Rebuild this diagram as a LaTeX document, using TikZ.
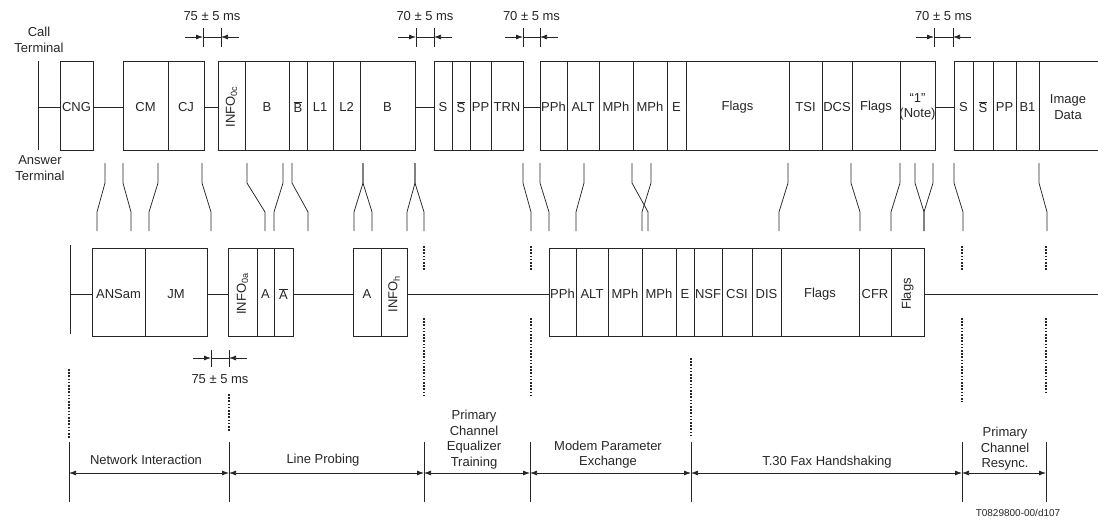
\documentclass[tikz,border=0pt]{standalone}
\usepackage{fontspec}
\setmainfont{Liberation Sans}
\usetikzlibrary{arrows.meta}
\begin{document}
\begin{tikzpicture}[x=1pt,y=-1pt,line width=0.75pt,color=black!85,
	lbl/.style={font=\fontsize{13}{15.5}\selectfont,inner sep=0pt,align=center},
	tip/.style={-{Latex[length=7pt,width=5pt]}},
	both/.style={{Latex[length=7pt,width=5pt]}-{Latex[length=7pt,width=5pt]}},
	dots/.style={line width=1.3pt,dash pattern=on 1.6pt off 1.6pt}]
	\useasboundingbox (0,0) rectangle (1098,522);
	
	\node[lbl] (call) at (39,40) {Call\\Terminal};
	\node[lbl] (answer) at (40,168) {Answer\\Terminal};
	
	% call terminal row
	\draw (38,61)--(38,150);
	\foreach \a/\b in {38/60, 93/123, 204/218, 415/434, 523/540, 935/954}
		\draw (\a,107)--(\b,107);
	\foreach \a/\b/\t [count=\i] in {60/93/CNG, 123/168/CM, 168/204/CJ, 245/289/B,
			289/307/{$\overline{\mbox{B}}$}, 307/333/L1, 333/360/L2, 360/415/B,
			434/452/S, 452/470/{$\overline{\mbox{S}}$}, 470/491/PP, 491/523/TRN,
			540/567/PPh, 567/599/ALT, 599/633/MPh, 633/667/MPh, 667/686/E,
			686/789/Flags, 789/822/TSI, 822/852/DCS, 852/900/Flags,
			900/935/{``1''\\(Note)}, 954/973/S, 973/993/{$\overline{\mbox{S}}$},
			993/1016/PP, 1016/1039/B1}
		\draw (\a,61) rectangle (\b,150) node[lbl] (up\i) at ({(\a+\b)/2},107) {\t};
	\draw (218,61) rectangle (245,150);
	\node[lbl,rotate=90] (info0c) at (231.5,107) {INFO\textsubscript{0c}};
	\draw (1098,61)--(1039,61)--(1039,150)--(1098,150);
	\node[lbl] (image) at (1068,107) {Image\\Data};
	
	% answer terminal row
	\draw (70,245)--(70,334);
	\foreach \a/\b in {70/92, 207/228, 293/353, 407/549, 924/1098}
		\draw (\a,294)--(\b,294);
	\foreach \a/\b/\t [count=\i] in {92/145/ANSam, 145/207/JM, 257/274/A,
			274/293/{$\overline{\mbox{A}}$}, 353/381/A, 549/576/PPh, 576/608/ALT,
			608/642/MPh, 642/676/MPh, 676/694/E, 694/722/NSF, 722/752/CSI,
			752/781/DIS, 781/859/Flags, 859/891/CFR}
		\draw (\a,248) rectangle (\b,336) node[lbl] (dn\i) at ({(\a+\b)/2},294) {\t};
	\draw (228,248) rectangle (257,336) (381,248) rectangle (407,336)
		(891,248) rectangle (924,336);
	\node[lbl,rotate=90] (info0a) at (242.5,294) {INFO\textsubscript{0a}};
	\node[lbl,rotate=90] (infoh) at (394,294) {INFO\textsubscript{h}};
	\node[lbl,rotate=90] (flags) at (907.5,294) {Flags};
	
	% links between the rows
	\foreach \u/\l in {105/97, 123/131, 158/149, 202/211, 247/265, 283/274, 292/308,
			363/354, 363/372, 415/407, 415/424, 523/531, 540/549, 584/576, 632/648,
			651/642, 788/779, 851/860, 900/891, 915/924, 933/924, 954/963, 1039/1047}
		\draw (\u,163)--(\u,183)--(\l,212)--(\l,231);
	
	% gaps
	\foreach \a/\b/\t in {203/221/75, 416/434/70, 523/540/70, 934/953/70}{
		\draw (\a,28)--(\a,47) (\b,28)--(\b,47) (\a,37)--(\b,37);
		\draw[tip] (\a-18,37)--(\a,37);
		\draw[tip] (\b+18,37)--(\b,37);
		\node[lbl] (gap\a) at ({(\a+\b)/2},16) {\t\ ± 5 ms};
	}
	\draw (211,350)--(211,367) (229,350)--(229,367) (211,358)--(229,358);
	\draw[tip] (193,358)--(211,358);
	\draw[tip] (247,358)--(229,358);
	\node[lbl] (gapdn) at (220,379) {75 ± 5 ms};
	
	% dotted marks
	\draw[dots] (69,369)--(69,438) (229,394)--(229,432) (691,358)--(691,438);
	\foreach \x/\e in {424/396, 531/397, 962/402, 1046/393}
		\draw[dots] (\x,246)--(\x,271) (\x,318)--(\x,\e);
	
	% phases
	\foreach \x in {69, 229, 424, 530, 691, 962, 1046}
		\draw (\x,442)--(\x,502);
	\foreach \a/\b in {69/229, 229/424, 424/530, 530/691, 691/962, 962/1046}
		\draw[both] (\a,473)--(\b,473);
	\node[lbl] (netint) at (146,460) {Network Interaction};
	\node[lbl] (probe) at (323,460) {Line Probing};
	\node[lbl] (train) at (474,439.5) {Primary\\Channel\\Equalizer\\Training};
	\node[lbl] (mpe) at (608,454.5) {Modem Parameter\\Exchange};
	\node[lbl] (t30) at (827,462) {T.30 Fax Handshaking};
	\node[lbl] (resync) at (1005,449) {Primary\\Channel\\Resync.};
	\node[lbl,font=\fontsize{10}{12}\selectfont] (ref) at (1018,513) {T0829800-00/d107};
\end{tikzpicture}
\end{document}
